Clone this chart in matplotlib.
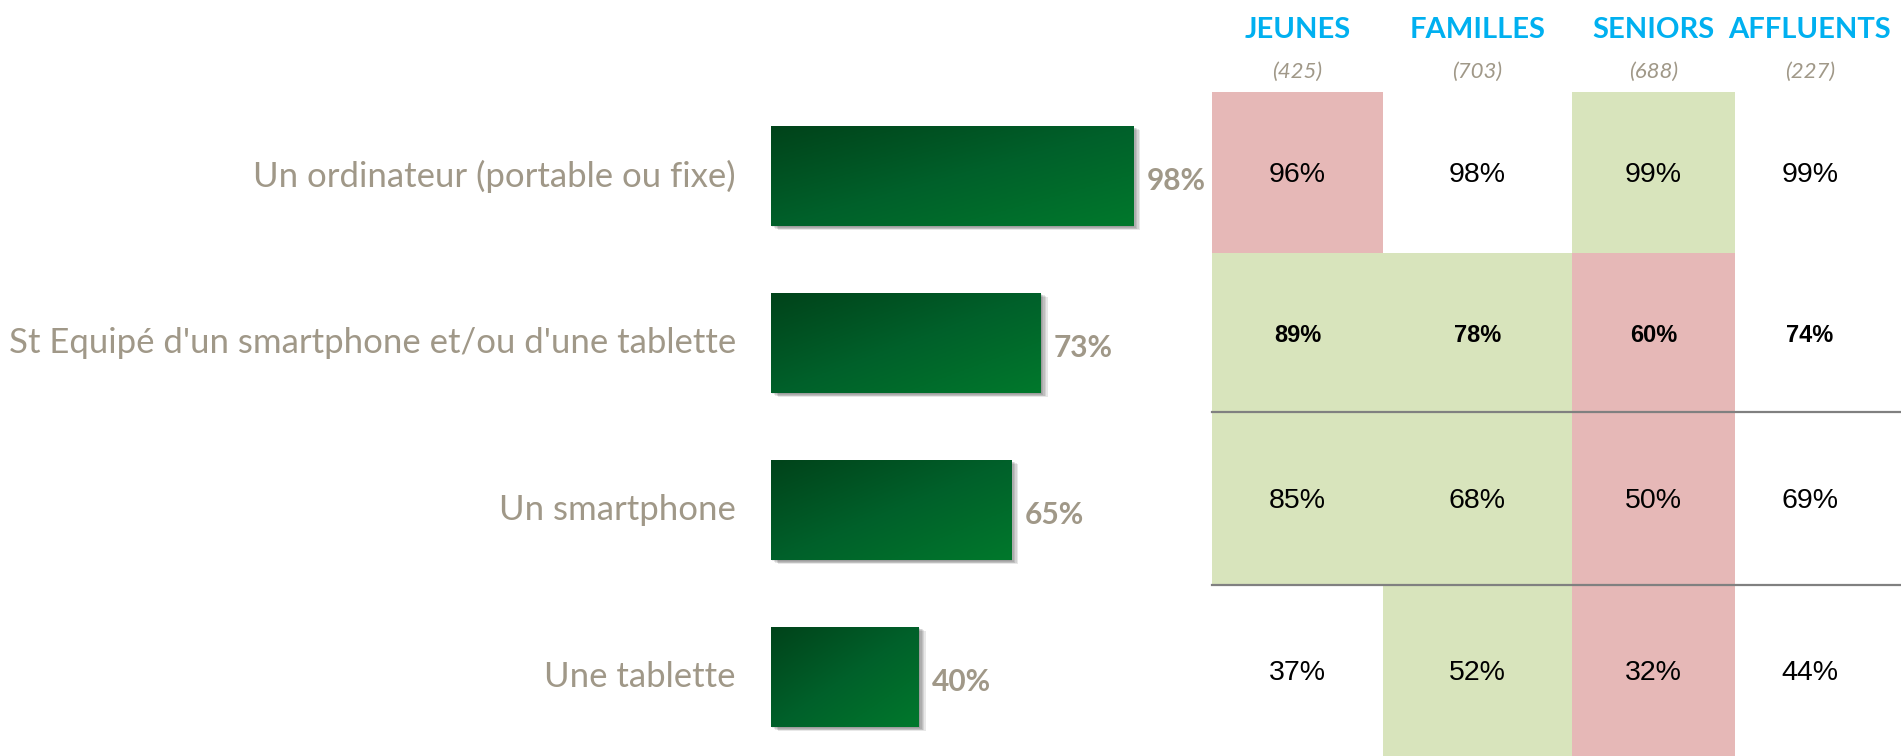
import numpy as np
import matplotlib
matplotlib.use("Agg")
import matplotlib.pyplot as plt
import matplotlib.patheffects as pe
from matplotlib.colors import LinearSegmentedColormap

# data
categories = ["Un ordinateur (portable ou fixe)",
              "St Equipé d'un smartphone et/ou d'une tablette",
              "Un smartphone",
              "Une tablette"]
totals = [98, 73, 65, 40]

segments = ["JEUNES", "FAMILLES", "SENIORS", "AFFLUENTS"]
bases = ["(425)", "(703)", "(688)", "(227)"]
seg_values = [[96, 98, 99, 99],
              [89, 78, 60, 74],
              [85, 68, 50, 69],
              [37, 52, 32, 44]]
# significance: 'g' = higher, 'r' = lower, '' = none
seg_flags = [["r", "", "g", ""],
             ["g", "g", "r", ""],
             ["g", "g", "r", ""],
             ["", "g", "r", ""]]

W, H = 1901, 756
fig = plt.figure(figsize=(W / 100, H / 100), dpi=100)

label_col = "#A09888"
green_fill = "#D8E4BC"
red_fill = "#E6B8B7"

# ---- bar chart ----
ax = fig.add_axes([771 / W, 0, 369.4 / W, 1])
ax.set_xlim(0, 100)
ax.set_ylim(3.473, -1.054)
ax.axis("off")

cmap = LinearSegmentedColormap.from_list("grn", ["#00431A", "#00602A", "#00782C"])
grad = np.add.outer(np.linspace(0, 1, 60), np.linspace(0, 1, 60)) / 2

ypos = np.arange(len(categories))
bars = ax.barh(ypos, totals, height=0.6, color="#006424", zorder=1)
shadow = [pe.SimplePatchShadow(offset=(k, -0.6 * k), shadow_rgbFace="k", alpha=0.09)
          for k in (1, 2, 3, 4, 5)] + [pe.Normal()]
for b, v, y, cat in zip(bars, totals, ypos, categories):
    b.set_path_effects(shadow)
    im = ax.imshow(grad, cmap=cmap, aspect="auto", zorder=2,
                   extent=(0, v, y + 0.3, y - 0.3))
    im.set_clip_path(b)
    ax.text(v + 3.6, y + 0.03, f"{v}%", ha="left", va="center", fontsize=21.5,
            fontweight="bold", color=label_col, family="Lato")
    ax.text(-9.5, y, cat, ha="right", va="center", fontsize=25,
            color=label_col, family="Lato")

# ---- table ----
tax = fig.add_axes([0, 0, 1, 1], zorder=-1)
tax.set_xlim(0, W)
tax.set_ylim(H, 0)
tax.axis("off")

col_edges = [1212, 1383, 1572, 1735, 1885]
row_edges = [92, 253, 412, 585, 756]
col_mid = [(a + b) / 2 for a, b in zip(col_edges[:-1], col_edges[1:])]
row_mid = [(a + b) / 2 for a, b in zip(row_edges[:-1], row_edges[1:])]

for j, (seg, base) in enumerate(zip(segments, bases)):
    tax.text(col_mid[j], 30, seg, ha="center", va="center", fontsize=21,
             fontweight="bold", color="#00B0F0", family="Lato")
    tax.text(col_mid[j], 72, base, ha="center", va="center", fontsize=16,
             style="italic", color=label_col, family="Lato")

for i in range(len(seg_values)):
    for j in range(len(segments)):
        f = seg_flags[i][j]
        if f:
            tax.add_patch(plt.Rectangle((col_edges[j], row_edges[i]),
                                        col_edges[j + 1] - col_edges[j],
                                        row_edges[i + 1] - row_edges[i],
                                        color=green_fill if f == "g" else red_fill,
                                        lw=0))
        bold = i == 1
        tax.text(col_mid[j], row_mid[i] + 3, f"{seg_values[i][j]}%", ha="center",
                 va="center", color="black", family="Liberation Sans",
                 fontsize=17 if bold else 20.5,
                 fontweight="bold" if bold else "normal")

for yy in row_edges[2:4]:
    tax.plot([col_edges[0], W], [yy, yy], color="#808080", lw=1.6)

fig.savefig("out.png", dpi=100)
